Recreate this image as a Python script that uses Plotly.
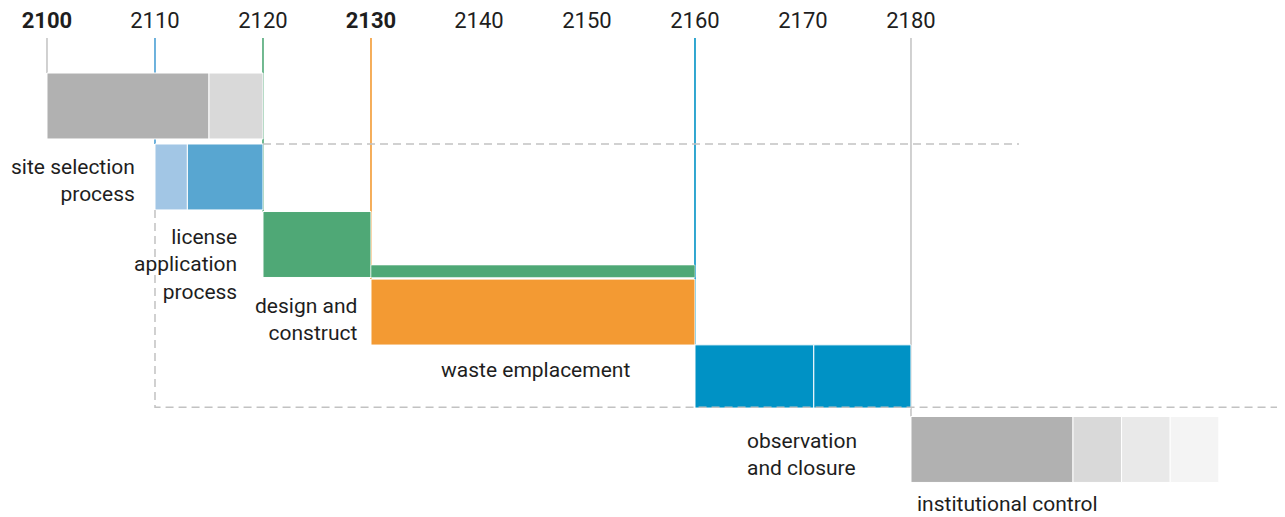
import plotly.graph_objects as go

# timeline ticks
YEARS = [2100, 2110, 2120, 2130, 2140, 2150, 2160, 2170, 2180]
BOLD_YEARS = [2100, 2130]

# bar segments: start year, end year, row
SEG_START = [2100, 2115, 2110, 2113, 2120, 2130, 2160, 2171, 2180, 2195, 2199.5, 2204]
SEG_END = [2115, 2120, 2113, 2120, 2130, 2160, 2171, 2180, 2195, 2199.5, 2204, 2208.5]
SEG_ROW = [0, 0, 1, 1, 2, 3, 4, 4, 5, 5, 5, 5]

# construction continues (thin strip) during emplacement
STRIP_START = [2130]
STRIP_END = [2160]
STRIP_ROW = [2]

# milestone lines: year, row whose bar they reach
MILESTONE_YEAR = [2100, 2110, 2120, 2130, 2160, 2180]
MILESTONE_ROW = [0, 1, 2, 3, 4, 5]

PHASE_LABELS = [
    "site selection<br>process",
    "license<br>application<br>process",
    "design and<br>construct",
    "waste emplacement",
    "observation<br>and closure",
    "institutional control",
]

# ---- styling ----
GRAY, LGRAY, LLGRAY, LLLGRAY = "#b1b1b1", "#d9d9d9", "#e9e9e9", "#f4f4f4"
LBLUE, MBLUE, DBLUE = "#a2c6e5", "#58a6d1", "#0092c5"
GREEN, ORANGE = "#4fa876", "#f39a33"
SEG_COLORS = [GRAY, LGRAY, LBLUE, MBLUE, GREEN, ORANGE, DBLUE, DBLUE,
              GRAY, LGRAY, LLGRAY, LLLGRAY]
LINE_COLORS = ["#c6c6c6", "#4a9fd4", GREEN, ORANGE, DBLUE, "#c6c6c6"]
DASH_COLOR = "#c2c2c2"
INK = "#1e1e1e"
FONT = "Roboto"

ROW_Y = [0, 1.033, 2.016, 3.0, 3.937, 5.0]     # vertical slot of each row
ROW_HALF = [0.48, 0.48, 0.48, 0.48, 0.46, 0.48]
Y_RANGE = [5.983, -0.99]
X_RANGE = [2096.39, 2214.63]
DASH = "8px,5px"

fig = go.Figure()

# milestone verticals, kept beneath the bars
for yr, row, col in zip(MILESTONE_YEAR, MILESTONE_ROW, LINE_COLORS):
    fig.add_shape(
        type="line", xref="x", yref="y", layer="below",
        x0=yr, x1=yr, y0=Y_RANGE[1], y1=ROW_Y[row] - ROW_HALF[row],
        line=dict(color=col, width=1.6),
    )

# dashed guide lines
top_dash = ROW_Y[1] - ROW_HALF[1]
low_dash = ROW_Y[4] + ROW_HALF[4] - 0.01
fig.add_trace(go.Scatter(
    x=[2120, 2190], y=[top_dash, top_dash],
    mode="lines", line=dict(color=DASH_COLOR, width=1.5, dash=DASH),
    showlegend=False, hoverinfo="skip",
))
fig.add_trace(go.Scatter(
    x=[2110, 2110, 2214.5], y=[ROW_Y[1] + ROW_HALF[1], low_dash, low_dash],
    mode="lines", line=dict(color=DASH_COLOR, width=1.5, dash=DASH),
    showlegend=False, hoverinfo="skip",
))

fig.add_trace(go.Bar(
    orientation="h",
    base=SEG_START,
    x=[e - s for s, e in zip(SEG_START, SEG_END)],
    y=[ROW_Y[r] for r in SEG_ROW],
    width=[2 * ROW_HALF[r] for r in SEG_ROW],
    marker=dict(color=SEG_COLORS, line=dict(color="white", width=1)),
    showlegend=False, hoverinfo="skip",
))
fig.add_trace(go.Bar(
    orientation="h",
    base=STRIP_START,
    x=[e - s for s, e in zip(STRIP_START, STRIP_END)],
    y=[ROW_Y[r] + ROW_HALF[r] - 0.09 for r in STRIP_ROW],
    width=0.18,
    marker=dict(color=GREEN, line=dict(color="white", width=0.5)),
    showlegend=False, hoverinfo="skip",
))

# phase labels
label_pos = [
    (2108.3, 1.09, "right", "right"),
    (2117.8, 2.30, "right", "right"),
    (2129.0, 3.11, "right", "right"),
    (2145.2, 3.84, "center", "center"),
    (2164.6, 5.07, "left", "left"),
    (2180.4, 5.79, "left", "left"),
]
for text, (x, y, anchor, align) in zip(PHASE_LABELS, label_pos):
    fig.add_annotation(
        x=x, y=y, text=text, showarrow=False,
        xanchor=anchor, yanchor="middle", align=align,
        font=dict(family=FONT, size=21, color=INK),
    )

ticktext = [f"<b>{y}</b>" if y in BOLD_YEARS else str(y) for y in YEARS]

fig.update_layout(
    width=1277, height=509,
    margin=dict(l=0, r=0, t=30, b=0),
    paper_bgcolor="white", plot_bgcolor="white",
    barmode="overlay",
    font=dict(family=FONT, color=INK),
    xaxis=dict(
        range=X_RANGE, side="top",
        tickmode="array", tickvals=YEARS, ticktext=ticktext,
        showgrid=False, zeroline=False, showline=False, ticks="",
        tickfont=dict(family=FONT, size=22, color=INK),
        ticklabelstandoff=5,
    ),
    yaxis=dict(range=Y_RANGE, visible=False),
)

fig.write_html("out.html")
